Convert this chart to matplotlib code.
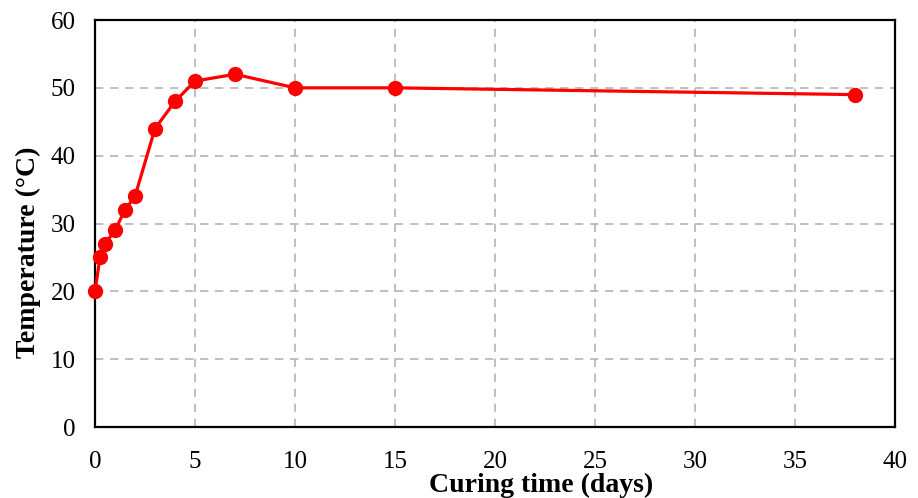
import matplotlib
matplotlib.use("Agg")
import matplotlib.pyplot as plt

# data
curing_days = [0, 0.25, 0.5, 1, 1.5, 2, 3, 4, 5, 7, 10, 15, 38]
temperature = [20, 25, 27, 29, 32, 34, 44, 48, 51, 52, 50, 50, 49]
x_ticks = [0, 5, 10, 15, 20, 25, 30, 35, 40]
y_ticks = [0, 10, 20, 30, 40, 50, 60]

plt.rcParams['font.family'] = ['Liberation Serif', 'DejaVu Serif']

fig = plt.figure(figsize=(9.18, 4.98), dpi=100)
ax = fig.add_axes([95 / 918, 1 - 427 / 498, 800 / 918, 407 / 498])

ax.plot(curing_days, temperature, color='#ff0000', linewidth=2.3,
        marker='o', markersize=10, zorder=3, clip_on=False)

ax.set_xlim(0, 40)
ax.set_ylim(0, 60)
ax.set_xticks(x_ticks)
ax.set_yticks(y_ticks)
ax.tick_params(length=0, labelsize=18)
ax.tick_params(axis='x', pad=17)
ax.tick_params(axis='y', pad=14)
ax.grid(True, linestyle=(0, (5, 4)), color='#b4b4b4', linewidth=1.2)
ax.set_axisbelow(True)
for s in ax.spines.values():
    s.set_linewidth(1.6)
    s.set_color('black')

ax.set_xlabel("Curing time (days)", fontsize=20, fontweight='bold')
ax.xaxis.set_label_coords(0.5575, -0.113)
ax.set_ylabel("Temperature (\u00b0C)", fontsize=20, fontweight='bold')
ax.yaxis.set_label_coords(-0.068, 0.43)

fig.savefig("out.png", dpi=100)
